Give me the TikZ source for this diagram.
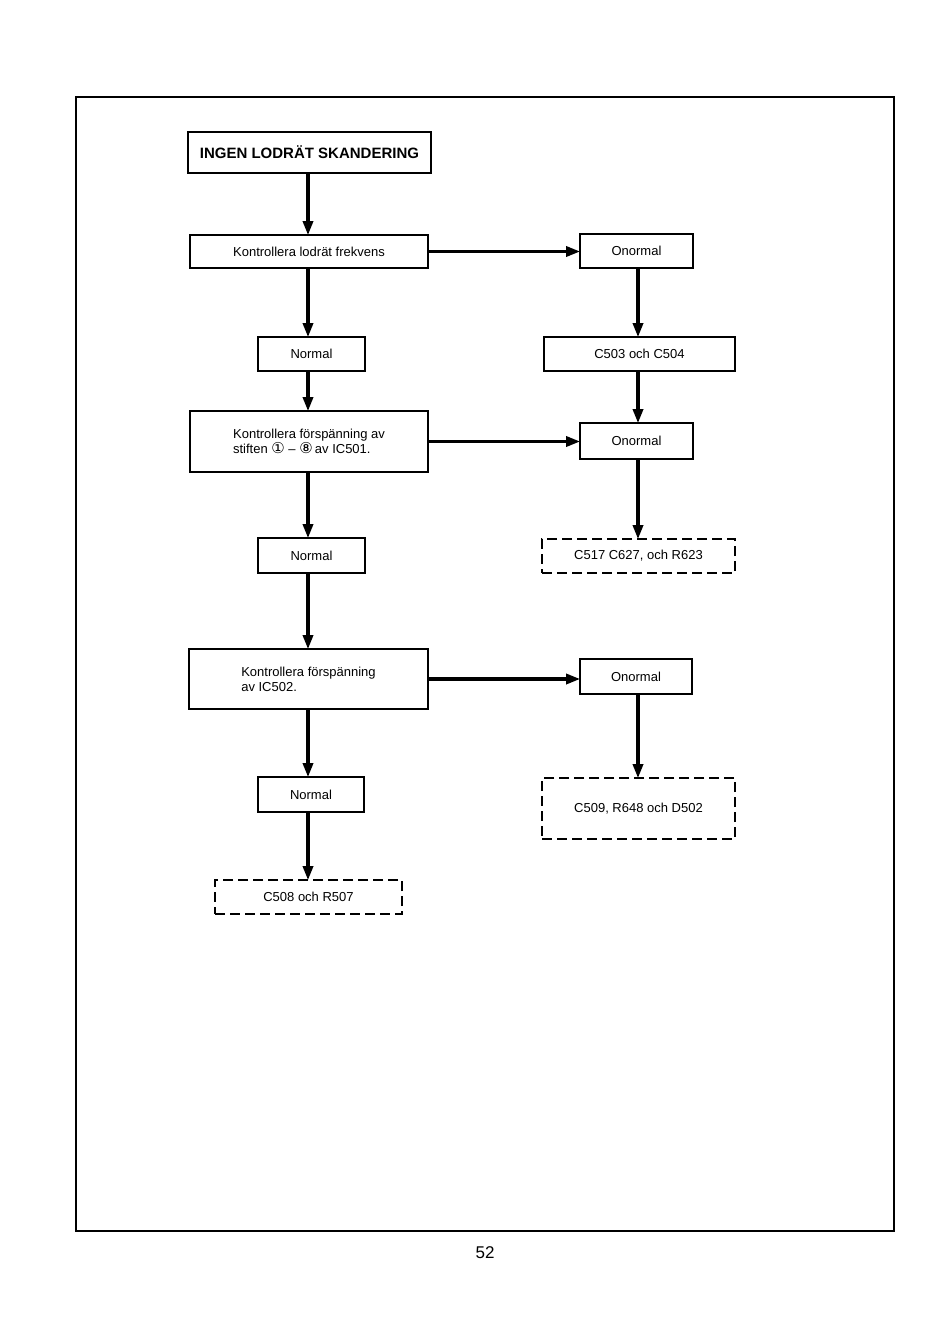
\documentclass[tikz,border=0pt]{standalone}
\usepackage{fontspec}
\setmainfont{Liberation Sans}
\newfontfamily\dejavu{DejaVu Sans}
\usetikzlibrary{arrows.meta}
\begin{document}
\begin{tikzpicture}[x=1pt,y=-1pt,
  every node/.style={font=\fontsize{13}{15}\selectfont},
  box/.style={draw, line width=1.7pt, inner sep=0pt, align=left},
  dbox/.style={box, dash pattern=on 10pt off 5pt},
  tbox/.style={draw, line width=2.8pt, inner sep=0pt, font=\fontsize{15}{17}\selectfont\bfseries},
  arr/.style={line width=3.2pt, -{Triangle[length=14pt,width=10pt]}, shorten >=-1pt}
]
\useasboundingbox (0,0) rectangle (950,1338);
\draw[line width=1.4pt] (76,97) rectangle (894,1231);
\node (pg) at (485,1253) {\fontsize{17}{19}\selectfont 52};

\node[tbox, minimum width=243, minimum height=41] (t) at (309.5,152.5) {INGEN LODRÄT SKANDERING};
\node[box, minimum width=238, minimum height=33] (k1) at (309,251.5) {Kontrollera lodrät frekvens};
\node[box, minimum width=113, minimum height=34] (o1) at (636.5,251) {Onormal};
\node[box, minimum width=107, minimum height=34] (n1) at (311.5,354) {Normal};
\node[box, minimum width=191, minimum height=34] (c1) at (639.5,354) {C503 och C504};
\node[box, minimum width=238, minimum height=61] (k2) at (309,441.5) {Kontrollera förspänning av\\stiften {\dejavu\fontsize{15}{15}\selectfont ①} – {\dejavu\fontsize{15}{15}\selectfont ⑧}\,av IC501.};
\node[box, minimum width=113, minimum height=36] (o2) at (636.5,441) {Onormal};
\node[box, minimum width=107, minimum height=35] (n2) at (311.5,555.5) {Normal};
\node[dbox, minimum width=193, minimum height=34] (c2) at (638.5,556) {C517 C627, och R623};
\node[box, minimum width=239, minimum height=60] (k3) at (308.5,679) {Kontrollera förspänning\\av IC502.};
\node[box, minimum width=112, minimum height=35] (o3) at (636,676.5) {Onormal};
\node[box, minimum width=106, minimum height=35] (n3) at (311,794.5) {Normal};
\node[dbox, minimum width=193, minimum height=61] (c3) at (638.5,808.5) {C509, R648 och D502};
\node[dbox, minimum width=187, minimum height=34] (c4) at (308.5,897) {C508 och R507};

\draw[arr] (t.south -| 308,0) -- (k1.north -| 308,0);
\draw[arr] (k1.east) -- (o1.west |- k1.east);
\draw[arr] (k1.south -| 308,0) -- (n1.north -| 308,0);
\draw[arr] (o1.south -| 638,0) -- (c1.north -| 638,0);
\draw[arr] (n1.south -| 308,0) -- (k2.north -| 308,0);
\draw[arr] (c1.south -| 638,0) -- (o2.north -| 638,0);
\draw[arr] (k2.east) -- (o2.west |- k2.east);
\draw[arr] (k2.south -| 308,0) -- (n2.north -| 308,0);
\draw[arr] (o2.south -| 638,0) -- (c2.north -| 638,0);
\draw[arr] (n2.south -| 308,0) -- (k3.north -| 308,0);
\draw[arr] (k3.east) -- (o3.west |- k3.east);
\draw[arr] (k3.south -| 308,0) -- (n3.north -| 308,0);
\draw[arr] (o3.south -| 638,0) -- (c3.north -| 638,0);
\draw[arr] (n3.south -| 308,0) -- (c4.north -| 308,0);
\end{tikzpicture}
\end{document}
